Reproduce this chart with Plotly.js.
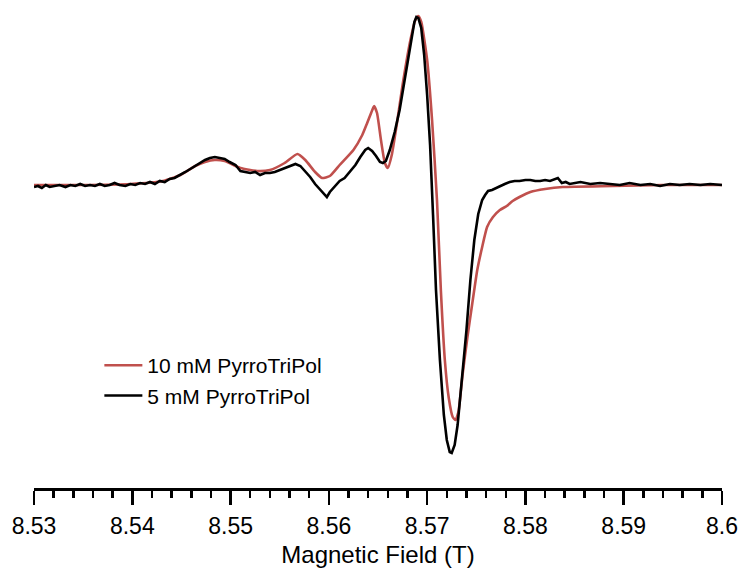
<!DOCTYPE html>
<html>
<head>
<meta charset="utf-8">
<script src="https://cdn.plot.ly/plotly-3.0.1.min.js"></script>
<style>html,body{margin:0;padding:0;background:#fff}#chart{width:741px;height:568px}</style>
</head>
<body>
<div id="chart"></div>
<script>
// Magnetic field (T)
const fieldRed = [8.5300,8.5347,8.5398,8.5431,8.5449,8.5464,8.5474,8.5484,8.5494,8.5510,8.5527,8.5540,8.5555,8.5568,8.5576,8.5586,8.5593,8.5601,8.5611,8.5625,8.5634,8.5639,8.5643,8.5646,8.5649,8.5653,8.5657,8.5660,8.5664,8.5669,8.5675,8.5683,8.5688,8.5691,8.5694,8.5700,8.5705,8.5710,8.5714,8.5718,8.5722,8.5726,8.5729,8.5732,8.5736,8.5741,8.5746,8.5751,8.5756,8.5761,8.5767,8.5774,8.5781,8.5787,8.5794,8.5805,8.5820,8.5838,8.5889,8.5940,8.6000];
const signalRed = [0,0,1,4,10,19,23,25,24,17,14,15,22,31,25,13,7,9,20,35,50,62,72,79,72,45,22,17,30,60,100,145,165,169,163,125,65,-15,-106,-175,-213,-232,-235,-226,-190,-152,-118,-85,-62,-42,-32,-25,-21,-16,-12,-7,-4,-2,-1,0,0];

const fieldBlack = [8.5300,8.5304,8.5308,8.5312,8.5316,8.5321,8.5326,8.5332,8.5337,8.5342,8.5347,8.5352,8.5357,8.5362,8.5367,8.5372,8.5377,8.5382,8.5387,8.5393,8.5398,8.5403,8.5408,8.5413,8.5418,8.5423,8.5428,8.5433,8.5438,8.5443,8.5449,8.5454,8.5459,8.5464,8.5469,8.5474,8.5479,8.5484,8.5489,8.5494,8.5499,8.5505,8.5510,8.5515,8.5520,8.5525,8.5530,8.5535,8.5540,8.5545,8.5550,8.5555,8.5560,8.5566,8.5571,8.5576,8.5581,8.5586,8.5591,8.5596,8.5598,8.5601,8.5606,8.5611,8.5616,8.5621,8.5627,8.5632,8.5637,8.5640,8.5644,8.5648,8.5652,8.5655,8.5658,8.5662,8.5667,8.5672,8.5677,8.5683,8.5687,8.5689,8.5691,8.5694,8.5697,8.5700,8.5703,8.5706,8.5709,8.5713,8.5717,8.5720,8.5723,8.5725,8.5728,8.5731,8.5735,8.5740,8.5744,8.5748,8.5752,8.5756,8.5759,8.5762,8.5766,8.5770,8.5774,8.5779,8.5784,8.5789,8.5794,8.5800,8.5805,8.5810,8.5815,8.5820,8.5825,8.5830,8.5833,8.5837,8.5841,8.5845,8.5850,8.5856,8.5866,8.5876,8.5886,8.5896,8.5906,8.5917,8.5927,8.5937,8.5947,8.5957,8.5967,8.5978,8.5988,8.6000];
const signalBlack = [-2,-1,-3,0,-2,-1,0,-2,0,-1,1,-1,0,-1,1,-1,0,2,0,-1,1,0,2,1,3,1,4,3,6,7,10,13,16,19,22,25,27,28,27,26,23,20,14,13,12,13,10,12,12,13,15,17,19,21,19,14,8,1,-4,-10,-12,-7,-1,4,7,13,20,28,35,37,34,29,23,22,24,35,53,75,105,140,163,168,167,157,130,90,40,-30,-105,-175,-230,-255,-267,-268,-260,-240,-200,-145,-95,-55,-29,-15,-10,-6,-5,-3,-1,1,3,4,4,5,5,4,4,5,4,6,7,2,3,1,2,3,1,2,1,0,2,0,1,-1,1,0,1,0,1,0];

const seriesNames = ['10 mM PyrroTriPol', '5 mM PyrroTriPol'];
const xTicks = [8.53, 8.54, 8.55, 8.56, 8.57, 8.58, 8.59, 8.6];
const xTickText = ['8.53', '8.54', '8.55', '8.56', '8.57', '8.58', '8.59', '8.6'];

const FONT = 'Liberation Sans, Arial, sans-serif';

const traces = [
  {x: fieldRed, y: signalRed, name: seriesNames[0], type: 'scatter', mode: 'lines',
   line: {color: '#c0504d', width: 2.6, shape: 'spline', smoothing: 0.5}},
  {x: fieldBlack, y: signalBlack, name: seriesNames[1], type: 'scatter', mode: 'lines',
   line: {color: '#000000', width: 2.6}}
];

const layout = {
  width: 741, height: 568,
  margin: {l: 34, r: 19, t: 5, b: 80, pad: 0},
  paper_bgcolor: '#ffffff', plot_bgcolor: '#ffffff',
  font: {family: FONT, color: '#000000', size: 23},
  showlegend: true,
  legend: {x: 0.095, y: 0.296, xanchor: 'left', yanchor: 'top',
           font: {family: FONT, size: 21, color: '#000'}, bgcolor: 'rgba(0,0,0,0)',
           tracegroupgap: 0, itemwidth: 38},
  xaxis: {
    range: [8.53, 8.6], showgrid: false, zeroline: false,
    showline: true, linecolor: '#000', linewidth: 2.8,
    ticks: 'outside', ticklen: 14, tickwidth: 2.5, tickcolor: '#000',
    tickmode: 'array', tickvals: xTicks, ticktext: xTickText,
    tickfont: {family: FONT, size: 23, color: '#000'},
    ticklabelstandoff: 2,
    minor: {dtick: 0.002, ticks: 'outside', ticklen: 7, tickwidth: 2.5, tickcolor: '#000', showgrid: false},
    title: {text: 'Magnetic Field (T)', font: {family: FONT, size: 24, color: '#000'}, standoff: 10}
  },
  yaxis: {range: [-303, 180], visible: false, showgrid: false, zeroline: false, fixedrange: true}
};

Plotly.newPlot('chart', traces, layout, {displayModeBar: false, staticPlot: true});
</script>
</body>
</html>
